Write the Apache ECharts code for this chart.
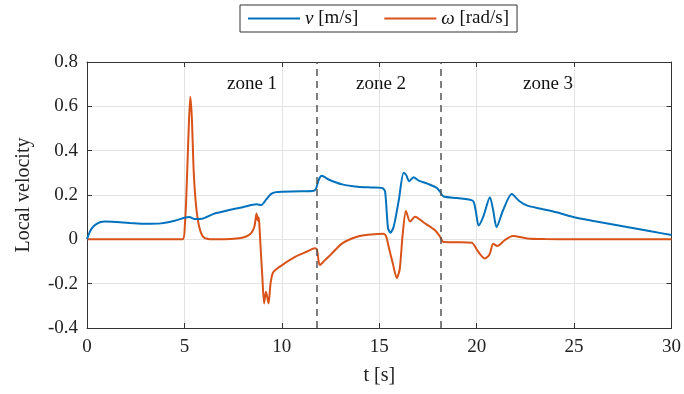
<!DOCTYPE html>
<html>
<head>
<meta charset="utf-8">
<script src="https://cdn.jsdelivr.net/npm/echarts@6/dist/echarts.min.js"></script>
<style>html,body{margin:0;padding:0;background:#fff}#c{width:684px;height:394px}</style>
</head>
<body>
<div id="c"></div>
<script>
var tV = [0, 0.15, 0.35, 0.66, 0.95, 1.5, 2.2, 3.0, 3.8, 4.5, 5.0, 5.25, 5.5, 5.9, 6.5, 7.2, 8.0, 8.7, 8.95, 9.2, 9.45, 9.7, 10.0, 11.0, 11.6, 11.75, 11.9, 12.05, 12.4, 13.1, 13.9, 14.6, 15.15, 15.3, 15.45, 15.58, 15.75, 16.0, 16.25, 16.38, 16.54, 16.76, 17.02, 17.5, 17.95, 18.12, 18.3, 19.0, 19.8, 19.95, 20.1, 20.35, 20.68, 20.85, 21.02, 21.35, 21.8, 22.2, 22.6, 23.3, 24.1, 25.0, 26.0, 27.0, 28.0, 29.0, 30.0];
var vVals = [0, 0.035, 0.06, 0.077, 0.08, 0.078, 0.074, 0.07, 0.072, 0.084, 0.097, 0.101, 0.092, 0.093, 0.115, 0.13, 0.145, 0.158, 0.155, 0.18, 0.205, 0.213, 0.215, 0.217, 0.218, 0.228, 0.27, 0.287, 0.27, 0.248, 0.237, 0.234, 0.232, 0.215, 0.05, 0.03, 0.06, 0.175, 0.3, 0.29, 0.262, 0.28, 0.265, 0.25, 0.232, 0.215, 0.193, 0.186, 0.174, 0.13, 0.062, 0.105, 0.19, 0.13, 0.055, 0.13, 0.204, 0.172, 0.152, 0.138, 0.122, 0.1, 0.083, 0.067, 0.051, 0.035, 0.02];
var tW = [0, 4.9, 5.02, 5.1, 5.2, 5.3, 5.38, 5.48, 5.6, 5.75, 5.95, 6.2, 7.0, 7.8, 8.2, 8.45, 8.6, 8.7, 8.76, 8.8, 8.84, 8.9, 9.0, 9.09, 9.18, 9.25, 9.32, 9.42, 9.55, 9.9, 10.7, 11.3, 11.7, 11.8, 11.95, 12.2, 12.5, 13.1, 13.9, 14.6, 15.2, 15.35, 15.5, 15.7, 15.9, 16.05, 16.2, 16.37, 16.58, 16.84, 17.3, 17.85, 18.1, 18.3, 19.0, 19.75, 20.0, 20.2, 20.42, 20.65, 20.85, 21.05, 21.45, 21.85, 22.6, 23.5, 25, 30];
var wVals = [0, 0, 0.06, 0.2, 0.45, 0.643, 0.55, 0.3, 0.15, 0.06, 0.012, 0.002, 0, 0.005, 0.014, 0.03, 0.06, 0.117, 0.085, 0.1, 0.075, -0.02, -0.17, -0.289, -0.236, -0.26, -0.289, -0.2, -0.15, -0.123, -0.078, -0.055, -0.04, -0.045, -0.116, -0.095, -0.07, -0.018, 0.013, 0.022, 0.025, 0.015, -0.04, -0.11, -0.175, -0.135, 0.02, 0.128, 0.08, 0.102, 0.075, 0.042, 0.015, -0.012, -0.013, -0.015, -0.045, -0.07, -0.086, -0.07, -0.02, -0.03, -0.003, 0.015, 0.004, 0.001, 0, 0];
var zoneBounds = [11.8, 18.15];
var zoneLabels = ['zone 1', 'zone 2', 'zone 3'];
var seriesNames = ['v', 'w'];

var FONT = 'Liberation Serif';
var AX = '#333333';
function pairs(ts, vs){ return ts.map(function(t,i){ return [t, vs[i]]; }); }

var chart = echarts.init(document.getElementById('c'));
var xCommon = { type:'value', min:0, max:30, interval:5,
  axisLine:{onZero:false, lineStyle:{color:AX,width:1}}, axisTick:{inside:true,length:5,lineStyle:{color:AX}} };
var yCommon = { type:'value', min:-0.4, max:0.8, interval:0.2,
  axisLine:{show:true, onZero:false, lineStyle:{color:AX,width:1}}, axisTick:{show:true,inside:true,length:5,lineStyle:{color:AX}} };

chart.setOption({
  animation:false,
  backgroundColor:'#fff',
  grid:{left:87, right:10, top:62, bottom:66},
  legend:{
    left:240, top:5, width:280, itemWidth:52, itemHeight:2, itemGap:26,
    padding:[4,8,4,8], borderColor:'#333', borderWidth:1, backgroundColor:'#fff',
    icon:'rect',
    formatter:function(n){ return n==='v' ? '{i|v} [m/s]' : '{i|ω} [rad/s]'; },
    textStyle:{fontFamily:FONT, fontSize:19, color:'#111',
      rich:{i:{fontFamily:FONT, fontStyle:'italic', fontSize:19, color:'#111'}}},
    data:seriesNames
  },
  xAxis:[
    Object.assign({}, xCommon, { position:'bottom', name:'t [s]', nameLocation:'middle', nameGap:38,
      nameTextStyle:{fontFamily:FONT, fontSize:20, color:'#222'},
      axisLabel:{fontFamily:FONT, fontSize:19, color:'#222', margin:10},
      splitLine:{show:true, lineStyle:{color:'#e3e3e3'}} }),
    Object.assign({}, xCommon, { position:'top', axisLabel:{show:false}, splitLine:{show:false} })
  ],
  yAxis:[
    Object.assign({}, yCommon, { position:'left', name:'Local velocity', nameLocation:'middle', nameGap:53,
      nameTextStyle:{fontFamily:FONT, fontSize:20, color:'#222'},
      axisLabel:{fontFamily:FONT, fontSize:19, color:'#222', margin:9,
        formatter:function(v){ return String(Math.round(v*10)/10); }},
      splitLine:{show:true, lineStyle:{color:'#e3e3e3'}} }),
    Object.assign({}, yCommon, { position:'right', axisLabel:{show:false}, splitLine:{show:false} })
  ],
  series:[
    { name:'v', type:'line', data:pairs(tV, vVals), symbol:'none', smooth:0.25,
      lineStyle:{color:'#0072BD', width:2}, itemStyle:{color:'#0072BD'}, z:3,
      markLine:{ silent:true, symbol:'none', label:{show:false},
        lineStyle:{color:'#555', type:[7,5], width:1.5},
        data: zoneBounds.map(function(b){ return {xAxis:b}; }) } },
    { name:'w', type:'line', data:pairs(tW, wVals), symbol:'none', smooth:0.25,
      lineStyle:{color:'#D95319', width:2}, itemStyle:{color:'#D95319'}, z:2 }
  ],
  graphic:[
    {type:'text', x:252, y:84, style:{text:zoneLabels[0], font:'19px "Liberation Serif"', fill:'#111', align:'center', verticalAlign:'middle'}},
    {type:'text', x:381, y:84, style:{text:zoneLabels[1], font:'19px "Liberation Serif"', fill:'#111', align:'center', verticalAlign:'middle'}},
    {type:'text', x:548, y:84, style:{text:zoneLabels[2], font:'19px "Liberation Serif"', fill:'#111', align:'center', verticalAlign:'middle'}}
  ]
});
</script>
</body>
</html>
